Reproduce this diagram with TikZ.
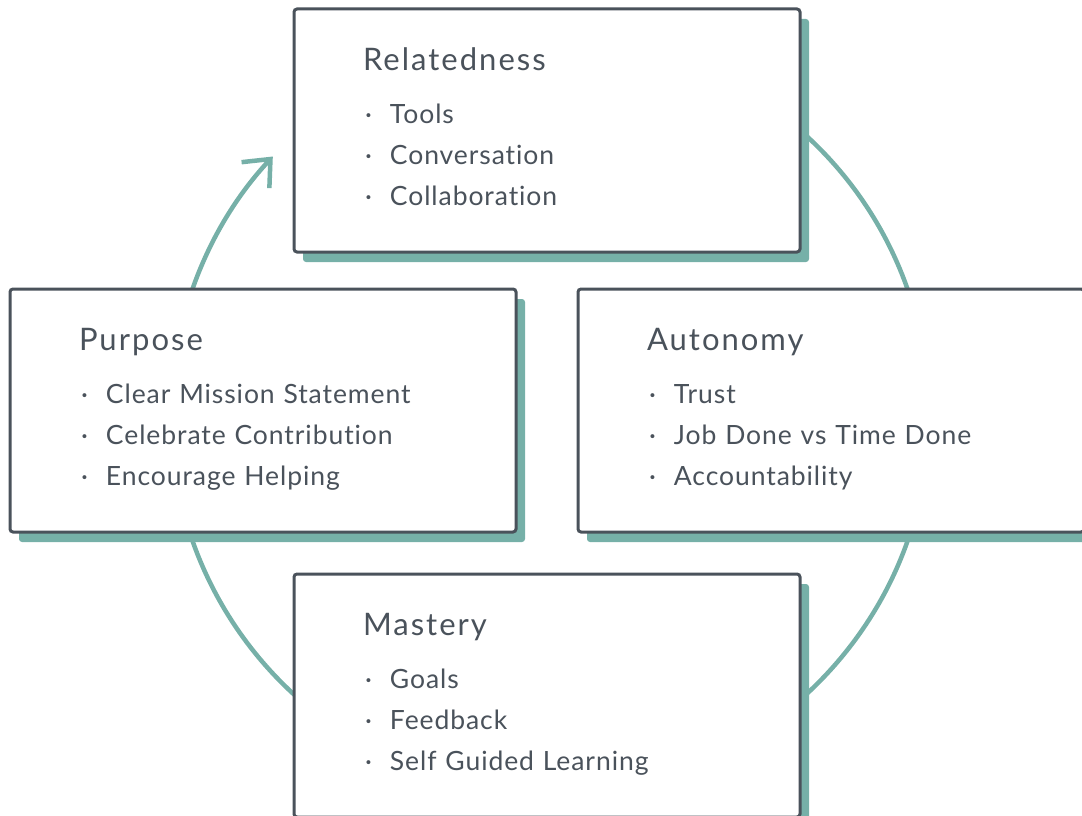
\documentclass[tikz,border=0pt]{standalone}
\usepackage{fontspec}
\setmainfont{Lato}[LetterSpace=3.5,Ligatures=NoCommon]
\usetikzlibrary{positioning, shadows, arrows.meta}
\definecolor{slate}{HTML}{4A525B}
\definecolor{sea}{HTML}{76B0A8}
\tikzstyle{card}=[rectangle,rounded corners=3pt,minimum width=506pt,minimum height=243pt,text width=368pt,inner xsep=69pt,align=left,draw=slate,line width=3pt,fill=white,text=slate,font=\fontsize{26.5}{41}\selectfont,drop shadow={shadow xshift=9pt,shadow yshift=-10pt,fill=sea,draw=none,opacity=1}]
\tikzstyle{cycle}=[sea,line width=4.5pt,-{Straight Barb[length=22pt,width=38pt]}]
\newcommand{\head}[1]{{\fontsize{31}{36}\addfontfeature{LetterSpace=6.5}\rule{0pt}{31pt}#1}}
\newcommand{\itm}[1]{\hspace*{2pt}\makebox[25pt][l]{·}#1}
\newcommand{\bottomstrut}{\rule[-16pt]{0pt}{16pt}}

\begin{document}
\begin{tikzpicture}[x=1pt,y=1pt,node distance=280pt]
\useasboundingbox (0,0) rectangle (1082,-816);

% the loop behind the cards
\coordinate (hub) at (550,-415);
\draw[cycle] (hub) ++(50:379pt) arc[start angle=50,end angle=-223,radius=379pt];

\node (rel) [card] at (547,-130.5) {\head{Relatedness}\\[12pt]\itm{Tools}\\\itm{Conversation}\\\itm{Collaboration}\bottomstrut};
\node (pur) [card,below of=rel,xshift=-284pt] {\head{Purpose}\\[12pt]\itm{Clear Mission Statement}\\\itm{Celebrate Contribution}\\\itm{Encourage Helping}\bottomstrut};
\node (aut) [card,below of=rel,xshift=284pt] {\head{Autonomy}\\[12pt]\itm{Trust}\\\itm{Job Done vs Time Done}\\\itm{Accountability}\bottomstrut};
\node (mas) [card,below of=rel,node distance=565pt] {\head{Mastery}\\[12pt]\itm{Goals}\\\itm{Feedback}\\\itm{Self Guided Learning}\bottomstrut};
\end{tikzpicture}
\end{document}
